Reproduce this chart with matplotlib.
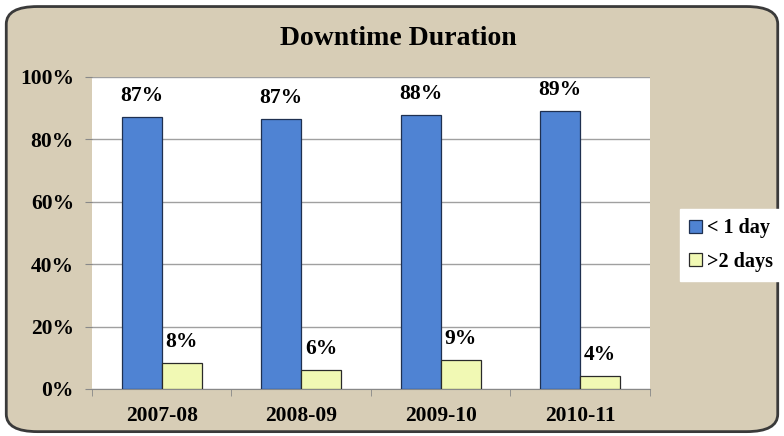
import numpy as np
import matplotlib.pyplot as plt
from matplotlib.patches import FancyBboxPatch

years = ["2007-08", "2008-09", "2009-10", "2010-11"]
under_1_day = [87.2, 86.6, 87.8, 89.0]
over_2_days = [8.3, 6.1, 9.3, 4.2]
labels_1 = ["87%", "87%", "88%", "89%"]
labels_2 = ["8%", "6%", "9%", "4%"]

plt.rcParams['font.family'] = ['Liberation Serif', 'DejaVu Serif']
plt.rcParams['font.weight'] = 'bold'

fig = plt.figure(figsize=(7.84, 4.36), dpi=100)
fig.patch.set_facecolor('white')

# textured-looking card background with rounded border
card = FancyBboxPatch((0.008, 0.01), 0.984, 0.975, boxstyle="round,pad=0,rounding_size=0.04",
                      transform=fig.transFigure, facecolor='#d7cdb6', edgecolor='#3a3a3a',
                      linewidth=2, zorder=-5)
fig.patches.append(card)

ax = fig.add_axes([0.1173, 0.1078, 0.7117, 0.7156])
ax.set_facecolor('white')

x = np.arange(len(years))
w = 0.287
b1 = ax.bar(x - w / 2, under_1_day, w, color='#4f83d3', edgecolor='#1f3050', linewidth=0.9,
            label='< 1 day', zorder=3)
b2 = ax.bar(x + w / 2, over_2_days, w, color='#f1f9b4', edgecolor='#2a2a2a', linewidth=0.9,
            label='>2 days', zorder=3)

for xi, v, t in zip(x - w / 2, under_1_day, labels_1):
    ax.text(xi, v + 3.5, t, ha='center', va='bottom', fontsize=15.5, fontweight='bold')
for xi, v, t in zip(x + w / 2, over_2_days, labels_2):
    ax.text(xi, v + 3.5, t, ha='center', va='bottom', fontsize=15.5, fontweight='bold')

ax.set_xlim(-0.5, len(years) - 0.5)
ax.set_ylim(0, 100)
ax.set_yticks(range(0, 101, 20))
ax.set_yticklabels([f"{v}%" for v in range(0, 101, 20)], fontsize=15.5, fontweight='bold')
ax.set_xticks(x)
ax.set_xticklabels(years, fontsize=15.5, fontweight='bold')
ax.set_xticks(np.arange(-0.5, len(years)), minor=True)
ax.tick_params(axis='x', which='major', length=0, pad=12)
ax.tick_params(axis='x', which='minor', length=5, color='#888888')
ax.tick_params(axis='y', length=5, color='#888888', pad=8)
ax.yaxis.grid(True, color='#a0a0a0', linewidth=1, zorder=0)
for side in ['top', 'right', 'left']:
    ax.spines[side].set_visible(False)
ax.spines['bottom'].set_color('#888888')

fig.text(0.508, 0.912, "Downtime Duration", ha='center', va='center', fontsize=20, fontweight='bold')

leg = fig.legend(handles=[b1, b2], loc='center left', bbox_to_anchor=(0.855, 0.438),
                 frameon=True, fancybox=False, edgecolor='white', facecolor='white',
                 fontsize=14.5, handlelength=0.6, handleheight=0.6, handletextpad=0.25,
                 labelspacing=0.65, borderpad=0.45)
leg.get_frame().set_alpha(1)

fig.savefig('out.png', dpi=100)
